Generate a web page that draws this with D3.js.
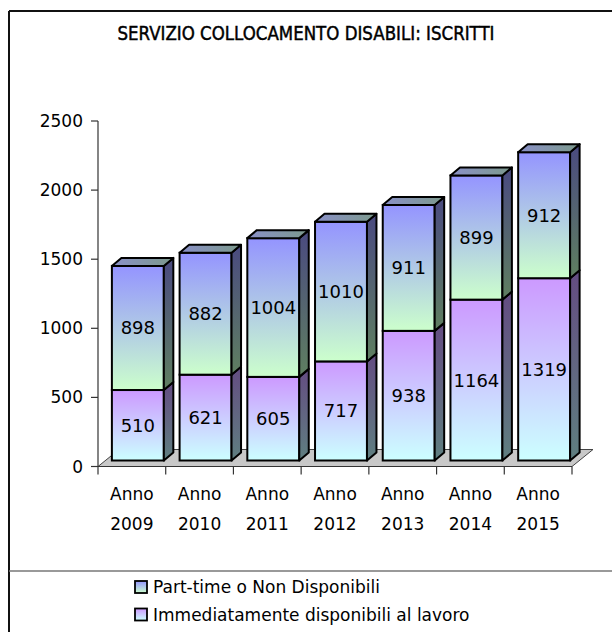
<!DOCTYPE html>
<html><head><meta charset="utf-8">
<script src="https://cdn.jsdelivr.net/npm/d3@7/dist/d3.min.js"></script>
<style>body{margin:0;background:#fff;}svg{display:block;}</style>
</head><body>
<script>
const title = "SERVIZIO COLLOCAMENTO DISABILI: ISCRITTI";
const years = ["2009","2010","2011","2012","2013","2014","2015"];
const categoryPrefix = "Anno";
const immediate = [510, 621, 605, 717, 938, 1164, 1319];
const partTime = [898, 882, 1004, 1010, 911, 899, 912];
const seriesNames = ["Part-time o Non Disponibili", "Immediatamente disponibili al lavoro"];
const yTicks = [0, 500, 1000, 1500, 2000, 2500];

const W = 612, H = 632;
const svg = d3.select("body").append("svg").attr("width", W).attr("height", H);
const defs = svg.append("defs");
function grad(id, c1, c2, horiz) {
  const g = defs.append("linearGradient").attr("id", id)
    .attr("x1", 0).attr("y1", 0).attr("x2", horiz ? 1 : 0).attr("y2", horiz ? 0 : 1);
  g.append("stop").attr("offset", "0%").attr("stop-color", c1);
  g.append("stop").attr("offset", "100%").attr("stop-color", c2);
}
grad("gTopFront", "#9494ff", "#ccffcc");
grad("gBotFront", "#cc99ff", "#ccffff");
grad("gTopSide", "#4a4a80", "#5f7f60");
grad("gBotSide", "#644c82", "#5f7f80");
grad("gTopCap", "#8a90c8", "#7c9a8c", true);
grad("gBotCap", "#9a80c0", "#7c9a9a", true);

// frame
svg.append("line").attr("x1", 9).attr("x2", W).attr("y1", 11).attr("y2", 11).attr("stroke", "#111").attr("stroke-width", 2);
svg.append("line").attr("x1", 9).attr("x2", 9).attr("y1", 11).attr("y2", H).attr("stroke", "#111").attr("stroke-width", 2);
svg.append("line").attr("x1", 9).attr("x2", W).attr("y1", 571).attr("y2", 571).attr("stroke", "#777").attr("stroke-width", 1.5);

svg.append("text").attr("x", 306).attr("y", 40).attr("text-anchor", "middle")
  .attr("font-family", "'DejaVu Sans Condensed', 'Liberation Sans Narrow', sans-serif")
  .attr("font-size", 19.5).attr("fill", "#000").attr("stroke", "#000").attr("stroke-width", 0.45)
  .attr("textLength", 377).attr("lengthAdjust", "spacingAndGlyphs").text(title);

const x0 = 98, x1 = 572, yBase = 466.5;
const x = d3.scaleBand().domain(years).range([x0, x1]).paddingInner(0.233).paddingOuter(0.1165);
const y = d3.scaleLinear().domain([0, 2500]).range([yBase, 121]);
const fdx = 21, fdy = -17;      // floor depth
const ox = 6, oy = -6;          // bar front offset
const bdx = 9.5, bdy = -8;      // bar depth
const font = "'DejaVu Sans', sans-serif";

// floor
svg.append("polygon")
  .attr("points", [[x0, yBase], [x1, yBase], [x1 + fdx, yBase + fdy], [x0 + fdx, yBase + fdy]].map(p => p.join(",")).join(" "))
  .attr("fill", "#c8c8c8").attr("stroke", "#444").attr("stroke-width", 1);

// axes
svg.append("line").attr("x1", x0).attr("x2", x0).attr("y1", y(2500)).attr("y2", yBase).attr("stroke", "#333").attr("stroke-width", 1.2);
svg.append("line").attr("x1", x0).attr("x2", x1).attr("y1", yBase).attr("y2", yBase).attr("stroke", "#333").attr("stroke-width", 1.2);
yTicks.forEach(t => {
  svg.append("line").attr("x1", x0 - 7).attr("x2", x0).attr("y1", y(t)).attr("y2", y(t)).attr("stroke", "#333").attr("stroke-width", 1.2);
  svg.append("text").attr("x", x0 - 15).attr("y", y(t) + 6).attr("text-anchor", "end")
    .attr("font-family", font).attr("font-size", 17).text(t);
});
const step = x.step();
d3.range(years.length + 1).forEach(i => {
  const tx = x0 + i * step;
  svg.append("line").attr("x1", tx).attr("x2", tx).attr("y1", yBase).attr("y2", yBase + 8).attr("stroke", "#333").attr("stroke-width", 1.2);
});
years.forEach(yr => {
  const cx = x(yr) + x.bandwidth() / 2;
  svg.append("text").attr("x", cx).attr("y", 500).attr("text-anchor", "middle").attr("font-family", font).attr("font-size", 17).text(categoryPrefix);
  svg.append("text").attr("x", cx).attr("y", 530).attr("text-anchor", "middle").attr("font-family", font).attr("font-size", 17).text(yr);
});

// bars
const stack = d3.stack().keys(["immediate", "partTime"])(years.map((yr, i) => ({ yr, immediate: immediate[i], partTime: partTime[i] })));
const styles = { immediate: ["gBotFront", "gBotSide", "gBotCap"], partTime: ["gTopFront", "gTopSide", "gTopCap"] };
years.forEach((yr, i) => {
  const g = svg.append("g");
  const bx = x(yr) + ox, bw = x.bandwidth();
  stack.forEach(s => {
    const [v0, v1] = s[i];
    const yt = y(v1) + oy, yb = y(v0) + oy;
    const st = styles[s.key];
    g.append("rect").attr("x", bx).attr("y", yt).attr("width", bw).attr("height", yb - yt)
      .attr("fill", `url(#${st[0]})`).attr("stroke", "#000").attr("stroke-width", 2);
    g.append("polygon").attr("points", [[bx + bw, yt], [bx + bw + bdx, yt + bdy], [bx + bw + bdx, yb + bdy], [bx + bw, yb]].map(p => p.join(",")).join(" "))
      .attr("fill", `url(#${st[1]})`).attr("stroke", "#000").attr("stroke-width", 2).attr("stroke-linejoin", "round");
  });
  const topS = stack[stack.length - 1];
  const yt = y(topS[i][1]) + oy;
  g.append("polygon").attr("points", [[bx, yt], [bx + bdx, yt + bdy], [bx + bw + bdx, yt + bdy], [bx + bw, yt]].map(p => p.join(",")).join(" "))
    .attr("fill", "url(#gTopCap)").attr("stroke", "#000").attr("stroke-width", 2).attr("stroke-linejoin", "round");
  stack.forEach(s => {
    const [v0, v1] = s[i];
    const cy = (y(v0) + y(v1)) / 2 + oy;
    g.append("text").attr("x", bx + bw / 2).attr("y", cy + 6.5).attr("text-anchor", "middle")
      .attr("font-family", font).attr("font-size", 18).text(v1 - v0);
  });
});

// legend
const legGrads = ["gTopFront", "gBotFront"];
seriesNames.forEach((n, i) => {
  const ly = 581 + i * 27.5;
  svg.append("rect").attr("x", 135).attr("y", ly).attr("width", 12).attr("height", 12)
    .attr("fill", `url(#${legGrads[i]})`).attr("stroke", "#000").attr("stroke-width", 1.8);
  svg.append("text").attr("x", 153).attr("y", ly + 12).attr("font-family", font).attr("font-size", 17).text(n);
});
</script>
</body></html>
